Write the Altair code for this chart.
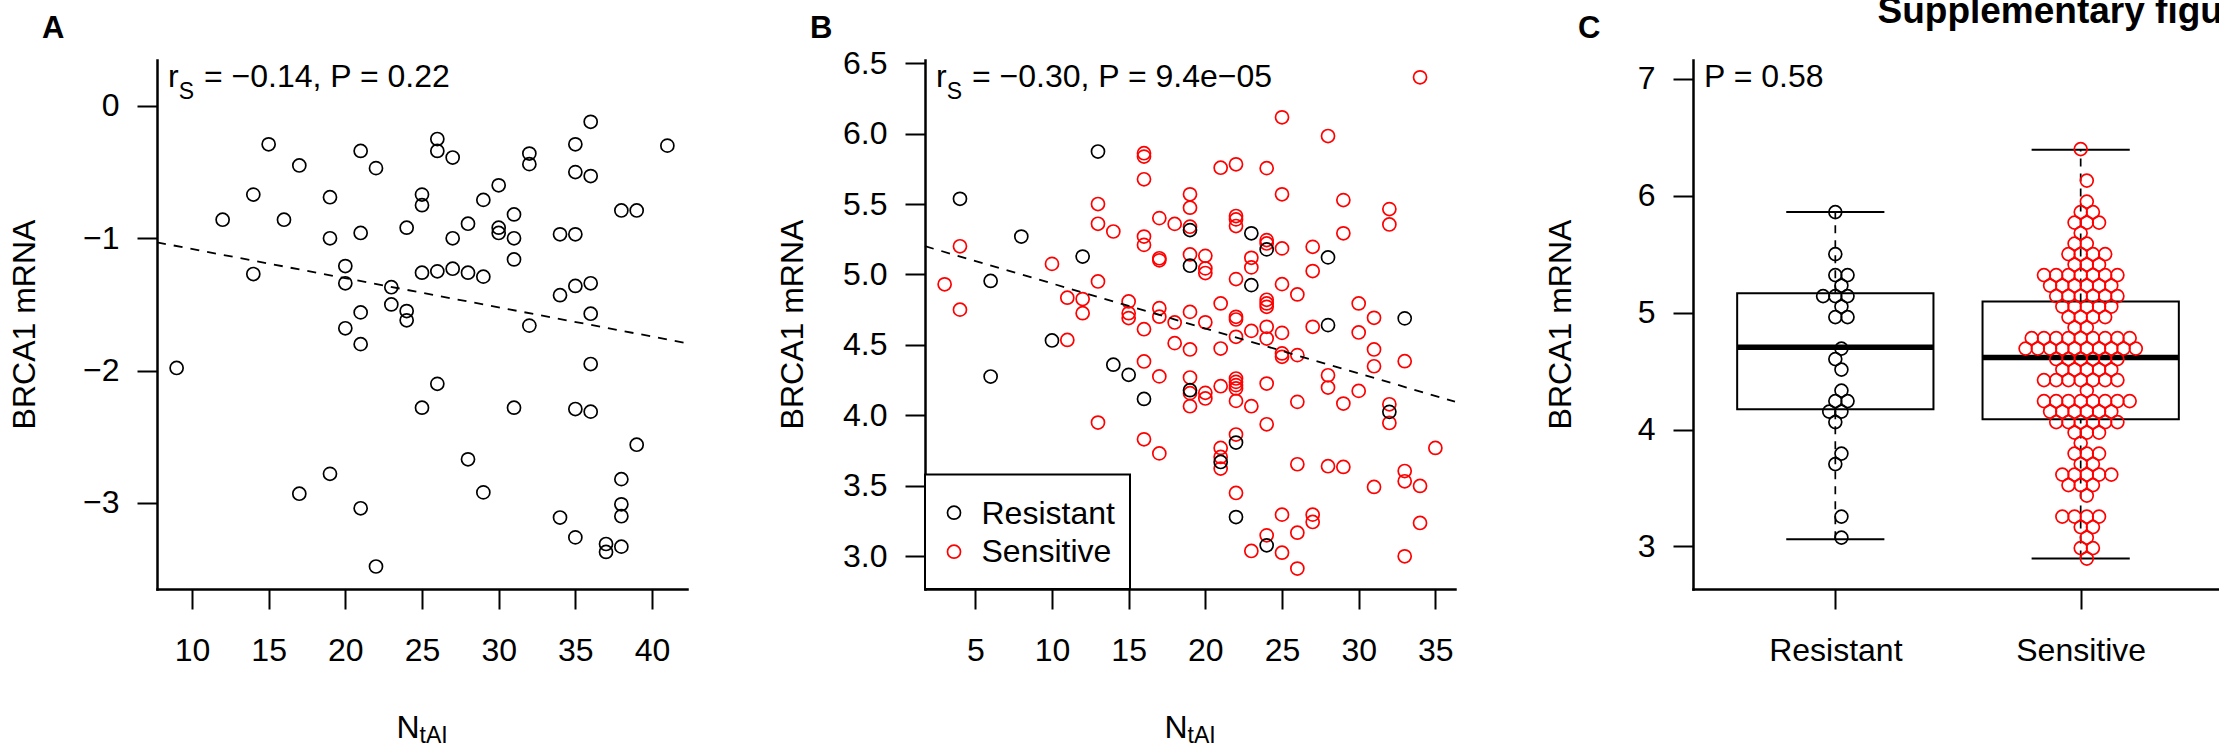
import altair as alt
import pandas as pd

FONT = "Liberation Sans"
FS = 32
SUB = 23
W, H = 530, 529
RED = "#FF0000"

# ---------------- Panel A data ----------------
a_ntai = [15, 21, 17, 22, 26, 26, 27, 32, 32, 36, 35, 41, 35, 36, 14, 19, 25, 25, 30, 29,
          38, 39, 12, 16, 19, 21, 24, 27, 28, 30, 30, 31, 31, 34, 35, 31, 14, 20, 20, 25,
          26, 27, 28, 29, 23, 23, 24, 24, 21, 20, 21, 34, 35, 36, 36, 32, 9, 36, 26, 25,
          31, 35, 36, 39, 28, 19, 17, 29, 21, 38, 38, 38, 34, 35, 37, 37, 38, 22]
a_brca1 = [-0.29, -0.34, -0.45, -0.47, -0.25, -0.34, -0.39, -0.36, -0.44, -0.12, -0.29, -0.30,
           -0.50, -0.53, -0.67, -0.69, -0.67, -0.75, -0.60, -0.71, -0.79, -0.79, -0.86, -0.86,
           -1.00, -0.96, -0.92, -1.00, -0.89, -0.92, -0.96, -0.82, -1.00, -0.97, -0.97, -1.16,
           -1.27, -1.21, -1.34, -1.26, -1.25, -1.23, -1.26, -1.29, -1.37, -1.50, -1.55, -1.62,
           -1.56, -1.68, -1.80, -1.43, -1.36, -1.34, -1.57, -1.66, -1.98, -1.95, -2.10, -2.28,
           -2.28, -2.29, -2.31, -2.56, -2.67, -2.78, -2.93, -2.92, -3.04, -2.82, -3.01, -3.10,
           -3.11, -3.26, -3.31, -3.37, -3.33, -3.48]
a_fit = [-0.8604, -0.02205]          # intercept, slope of dashed trend line
a_label = ["= \u22120.14, P = 0.22"]

# ---------------- Panel B data ----------------
b_res_ntai = [4, 6, 6, 8, 10, 12, 13, 14, 15, 16, 19, 19, 19, 21, 22, 22, 23, 23, 24, 24,
              28, 28, 32, 33]
b_res_brca1 = [5.537, 4.954, 4.275, 5.269, 4.531, 5.127, 5.873, 4.359, 4.287, 4.116, 5.315,
               5.062, 4.178, 3.668, 3.806, 3.277, 5.292, 4.924, 5.178, 3.076, 5.121, 4.640,
               4.024, 4.688]
b_sen_ntai = ([3] + [4] * 2 + [10] + [11] * 2 + [12] * 2 + [13] * 4 + [14] + [15] * 3 +
              [16] * 8 + [17] * 7 + [18] * 3 + [19] * 9 + [20] * 6 + [21] * 7 + [22] * 15 +
              [23] * 5 + [24] * 11 + [25] * 9 + [26] * 6 + [27] * 5 + [28] * 4 + [29] * 4 +
              [30] * 3 + [31] * 4 + [32] * 4 + [33] * 4 + [34] * 3 + [35])
b_sen_brca1 = [4.93,
               5.20, 4.75,
               5.075,
               4.835, 4.535,
               4.825, 4.725,
               5.50, 5.36, 4.95, 3.948,
               5.305,
               4.808, 4.725, 4.69,
               5.861, 5.837, 5.676, 5.269, 5.21, 4.611, 4.382, 3.829,
               5.40, 5.115, 5.10, 4.76, 4.70, 4.276, 3.729,
               5.359, 4.659, 4.512,
               5.569, 5.474, 5.339, 5.142, 4.734, 4.467, 4.268, 4.157, 4.064,
               5.132, 5.043, 5.01, 4.66, 4.159, 4.119,
               5.758, 4.794, 4.474, 4.206, 3.768, 3.704, 3.621,
               5.782, 5.415, 5.391, 5.344, 4.967, 4.699, 4.68, 4.557, 4.261, 4.237, 4.214,
               4.19, 4.102, 3.863, 3.448,
               5.118, 5.05, 4.599, 4.064, 3.036,
               5.755, 5.244, 5.22, 4.82, 4.794, 4.77, 4.628, 4.545, 4.225, 3.936, 3.147,
               6.116, 5.569, 5.185, 4.931, 4.585, 4.439, 4.415, 3.294, 3.024,
               4.858, 4.427, 4.095, 3.652, 3.166, 2.911,
               5.196, 5.024, 4.628, 3.294, 3.242,
               5.983, 4.284, 4.197, 3.638,
               5.528, 5.292, 4.083, 3.633,
               4.794, 4.588, 4.173,
               4.692, 4.467, 4.348, 3.491,
               5.464, 5.355, 4.078, 3.945,
               4.384, 3.604, 3.531, 2.998,
               6.40, 3.498, 3.235,
               3.768]
b_fit = [5.2555, -0.03195]
b_label = ["= \u22120.30, P = 9.4e\u221205"]

# ---------------- Panel C data ----------------
c_groups = ["Resistant", "Sensitive"]
c_pos = [1, 2]
c_lo = [3.062, 2.897]
c_q1 = [4.174, 4.089]
c_med = [4.705, 4.616]
c_q3 = [5.167, 5.095]
c_hi = [5.862, 6.395]
c_label = ["P = 0.58"]
title_text = ["Supplementary figure S4"]

# ---------------- helpers ----------------
dummy = pd.DataFrame({"d": [0]})


def txt(s, x, y, size=FS, weight="normal", align="left", baseline="alphabetic",
        angle=0, color="black"):
    return alt.Chart(dummy).mark_text(
        text=s, font=FONT, fontSize=size, fontWeight=weight, align=align,
        baseline=baseline, angle=angle, color=color
    ).encode(x=alt.value(x), y=alt.value(y))


def ax(values, orient, fmt=None, label_expr=None):
    kw = dict(values=values, title=None, grid=False, domain=True, domainColor="black",
              domainWidth=2.5, domainCap="square", ticks=True, tickColor="black",
              tickWidth=2, tickSize=20, labelFont=FONT, labelFontSize=FS,
              labelColor="black", labelFlush=False, labelOverlap=False,
              labelPadding=26 if orient == "x" else 18)
    if fmt:
        kw["format"] = fmt
    if label_expr:
        kw["labelExpr"] = label_expr
    return alt.Axis(**kw)


def common_text(letter):
    return [
        txt(letter, -115, -22, size=31, weight="bold"),
        txt("BRCA1 mRNA", -122, H / 2, align="center", angle=270),
    ]


def xtitle():
    return [txt("N", 239.4, 678.3), txt("tAI", 262.5, 683.3, size=SUB)]


def rs_label(rest):
    return [txt("r", 11, 27.3), txt("S", 21.7, 38.5, size=SUB), txt(rest, 47, 27.3)]


def pin(x, y):
    # invisible 1px white layout anchor fixing the page extent (page is cropped like the figure)
    return alt.Chart(dummy).mark_rect(fill="white", strokeWidth=0).encode(
        x=alt.value(x), x2=alt.value(x + 1), y=alt.value(y), y2=alt.value(y + 1))


# ---------------- Panel A ----------------
xA_dom = [7.72, 42.28]
yA_dom = [-3.65, 0.347]
xA_scale = alt.Scale(domain=xA_dom, nice=False, zero=False)
yA_scale = alt.Scale(domain=yA_dom, nice=False, zero=False)
xA_axis = ax([10, 15, 20, 25, 30, 35, 40], "x")
yA_axis = ax([-3, -2, -1, 0], "y", fmt="d")

dfA = pd.DataFrame({"ntai": a_ntai, "brca1": a_brca1})
fitA = pd.DataFrame({"ntai": xA_dom, "brca1": [a_fit[0] + a_fit[1] * v for v in xA_dom]})

ptsA = alt.Chart(dfA).mark_point(shape="circle", filled=False, size=170, strokeWidth=1.7,
                                 color="black", opacity=1).encode(
    x=alt.X("ntai:Q", scale=xA_scale, axis=xA_axis),
    y=alt.Y("brca1:Q", scale=yA_scale, axis=yA_axis))
lineA = alt.Chart(fitA).mark_line(strokeDash=[9, 8], strokeWidth=1.8, color="black").encode(
    x=alt.X("ntai:Q", scale=xA_scale, axis=xA_axis),
    y=alt.Y("brca1:Q", scale=yA_scale, axis=yA_axis))

panelA = alt.layer(pin(-157, -70), ptsA, lineA, *common_text("A"), *rs_label(a_label[0]),
                   *xtitle()).properties(width=W, height=H)

# ---------------- Panel B ----------------
xB_dom = [1.72, 36.28]
yB_dom = [2.766, 6.523]
xB_scale = alt.Scale(domain=xB_dom, nice=False, zero=False)
yB_scale = alt.Scale(domain=yB_dom, nice=False, zero=False)
xB_axis = ax([5, 10, 15, 20, 25, 30, 35], "x")
yB_axis = ax([3.0, 3.5, 4.0, 4.5, 5.0, 5.5, 6.0, 6.5], "y", fmt=".1f")
color_scale = alt.Scale(domain=c_groups, range=["black", RED])

dfB = pd.concat([
    pd.DataFrame({"ntai": b_sen_ntai, "brca1": b_sen_brca1, "group": "Sensitive"}),
    pd.DataFrame({"ntai": b_res_ntai, "brca1": b_res_brca1, "group": "Resistant"}),
], ignore_index=True)
dfB["order"] = range(len(dfB))
fitB = pd.DataFrame({"ntai": xB_dom, "brca1": [b_fit[0] + b_fit[1] * v for v in xB_dom]})

ptsB = alt.Chart(dfB).mark_point(shape="circle", filled=False, size=170, strokeWidth=1.7,
                                 opacity=1).encode(
    x=alt.X("ntai:Q", scale=xB_scale, axis=xB_axis),
    y=alt.Y("brca1:Q", scale=yB_scale, axis=yB_axis),
    color=alt.Color("group:N", scale=color_scale, legend=None),
    order=alt.Order("order:Q"))
lineB = alt.Chart(fitB).mark_line(strokeDash=[9, 8], strokeWidth=1.8, color="black").encode(
    x=alt.X("ntai:Q", scale=xB_scale, axis=xB_axis),
    y=alt.Y("brca1:Q", scale=yB_scale, axis=yB_axis))

leg_box = alt.Chart(dummy).mark_rect(fill="white", stroke="black", strokeWidth=2).encode(
    x=alt.value(0), x2=alt.value(205), y=alt.value(414.5), y2=alt.value(H))
leg_items = pd.DataFrame({"group": c_groups, "py": [452.7, 491.7]})
leg_pts = alt.Chart(leg_items).mark_point(shape="circle", filled=False, size=170,
                                          strokeWidth=1.7, opacity=1).encode(
    x=alt.value(29), y=alt.Y("py:Q", scale=None),
    color=alt.Color("group:N", scale=color_scale, legend=None))
leg_txt = [txt("Resistant", 56.5, 464.2), txt("Sensitive", 56.5, 501.7)]

panelB = alt.layer(ptsB, lineB, leg_box, leg_pts, *leg_txt, *common_text("B"),
                   *rs_label(b_label[0]), *xtitle()).properties(width=W, height=H)

# ---------------- Panel C ----------------
xC_dom = [0.42, 2.58]
yC_dom = [2.636, 7.1625]
xC_scale = alt.Scale(domain=xC_dom, nice=False, zero=False)
yC_scale = alt.Scale(domain=yC_dom, nice=False, zero=False)
xC_axis = ax([1, 2], "x", label_expr="datum.value == 1 ? 'Resistant' : 'Sensitive'")
yC_axis = ax([3, 4, 5, 6, 7], "y", fmt="d")

boxes = pd.DataFrame({"group": c_groups, "pos": c_pos, "lo": c_lo, "q1": c_q1,
                      "med": c_med, "q3": c_q3, "hi": c_hi})
boxes["left"] = boxes["pos"] - 0.4
boxes["right"] = boxes["pos"] + 0.4
boxes["sl"] = boxes["pos"] - 0.2
boxes["sr"] = boxes["pos"] + 0.2


def Xc(f):
    return alt.X(f, type="quantitative", scale=xC_scale, axis=xC_axis)


def Yc(f):
    return alt.Y(f, type="quantitative", scale=yC_scale, axis=yC_axis)


base = alt.Chart(boxes)
box_rect = base.mark_rect(fill="white", stroke="black", strokeWidth=2).encode(
    x=Xc("left"), x2="right", y=Yc("q1"), y2="q3")
box_med = base.mark_rule(strokeWidth=5.5, color="black").encode(
    x=Xc("left"), x2="right", y=Yc("med"))
wh_up = base.mark_rule(strokeDash=[8, 7], strokeWidth=1.7, color="black").encode(
    x=Xc("pos"), y=Yc("q3"), y2="hi")
wh_lo = base.mark_rule(strokeDash=[8, 7], strokeWidth=1.7, color="black").encode(
    x=Xc("pos"), y=Yc("lo"), y2="q1")
st_up = base.mark_rule(strokeWidth=2, color="black").encode(x=Xc("sl"), x2="sr", y=Yc("hi"))
st_lo = base.mark_rule(strokeWidth=2, color="black").encode(x=Xc("sl"), x2="sr", y=Yc("lo"))

# hexagonal beeswarm layout computed from the data values
px_per_y = H / (yC_dom[1] - yC_dom[0])
px_per_x = W / (xC_dom[1] - xC_dom[0])
row_h = 10.5 / px_per_y
col_w = 12.25 / px_per_x
top = max(b_sen_brca1 + b_res_brca1)


def swarm(values, center, group):
    rows = {}
    for v in values:
        k = int(round((top - v) / row_h))
        rows.setdefault(k, []).append(v)
    out = []
    for k, vs in rows.items():
        n = len(vs)
        if k % 2 == 0:
            offs = [0.0]
            j = 1
            while len(offs) < n:
                offs += [j, -j]
                j += 1
        else:
            offs = []
            j = 0.5
            while len(offs) < n:
                offs += [j, -j]
                j += 1
        for i in range(n):
            out.append({"px": center + offs[i] * col_w, "py": top - k * row_h, "group": group})
    return out


swarm_rows = swarm(b_res_brca1, c_pos[0], "Resistant") + swarm(b_sen_brca1, c_pos[1], "Sensitive")
dfC = pd.DataFrame(swarm_rows)
ptsC = alt.Chart(dfC).mark_point(shape="circle", filled=False, size=165, strokeWidth=1.7,
                                 opacity=1).encode(
    x=Xc("px"), y=Yc("py"), color=alt.Color("group:N", scale=color_scale, legend=None))

panelC = alt.layer(box_rect, wh_up, wh_lo, st_up, st_lo, box_med, ptsC,
                   *common_text("C"), txt(c_label[0], 11, 27.3),
                   txt(title_text[0], 184.5, -37, size=37, weight="bold"),
                   pin(700, 699)).properties(width=W, height=H)

# The page shows the figure cropped on the top and right, as the reference does.
chart = alt.hconcat(panelA, panelB, panelC, spacing=238, bounds="flush").properties(
    padding={"left": 0, "top": -10, "right": -175, "bottom": -13},
    background="white").configure_view(stroke=None)

chart.save("out.html", embed_options={"renderer": "svg", "actions": False})
